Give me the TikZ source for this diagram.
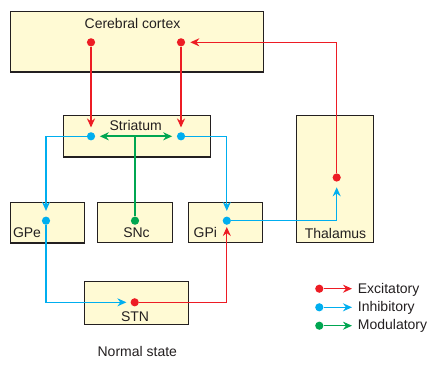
\documentclass[tikz,border=0pt]{standalone}
\usepackage{fontspec}
\setmainfont{Liberation Sans}
\usetikzlibrary{arrows.meta}
\definecolor{exc}{RGB}{237,28,36}
\definecolor{inh}{RGB}{0,174,239}
\definecolor{mod}{RGB}{0,166,81}
\definecolor{boxfill}{RGB}{255,250,212}
\definecolor{ink}{RGB}{35,31,32}
\begin{document}
\begin{tikzpicture}[x=1pt,y=-1pt,
  region/.style={draw=ink,line width=1.1pt,fill=boxfill},
  lbl/.style={text=ink,font=\fontsize{14}{15}\selectfont,inner sep=0pt},
  dot/.style={circle,fill=#1,inner sep=0pt,minimum size=8.2pt},
  path/.style={draw=#1,line width=1.2pt,-{Stealth[length=9pt,width=8pt]}},
  plain/.style={draw=#1,line width=1.2pt},
  heavy/.style={line width=1.9pt},
]
\useasboundingbox (0,0) rectangle (438,364);

% regions
\path[region] (10.3,11.3) rectangle (263.3,72);
\path[region] (63.3,115.7) rectangle (210.3,157);
\path[region] (296.3,115.7) rectangle (373.3,242.3);
\path[region] (10.3,202.3) rectangle (84.3,243);
\path[region] (97.3,202.3) rectangle (172.3,242.3);
\path[region] (188.3,202.3) rectangle (262.3,242.3);
\path[region] (84.3,281.3) rectangle (188.3,324.3);

% labels
\node[lbl,anchor=base] (lcx) at (132.5,28.3) {Cerebral cortex};
\node[lbl,anchor=base] (lst) at (135.7,130) {Striatum};
\node[lbl,anchor=base west] (lge) at (12.8,237.7) {GPe};
\node[lbl,anchor=base] (lsn) at (136.5,237.7) {SNc};
\node[lbl,anchor=base west] (lgi) at (193.5,237.7) {GPi};
\node[lbl,anchor=base] (lth) at (335.5,238) {Thalamus};
\node[lbl,anchor=base] (lstn) at (135,321.3) {STN};
\node[lbl,anchor=base] (lns) at (137.3,356) {Normal state};

% neurons
\node[dot=exc] (c1) at (91,42.3) {};
\node[dot=exc] (c2) at (181,42.3) {};
\node[dot=inh] (s1) at (91,136.3) {};
\node[dot=inh] (s2) at (181,136.3) {};
\node[dot=inh] (ge) at (46,220.7) {};
\node[dot=mod] (sn) at (135,220.7) {};
\node[dot=inh] (gi) at (226.8,220.7) {};
\node[dot=exc] (th) at (336.7,177.5) {};
\node[dot=exc] (stn) at (134.7,302.3) {};
\coordinate (mid) at (135,136.3);

% projections
\draw[path=exc,heavy,shorten >=4.5pt] (c1) -- (s1);
\draw[path=exc,heavy,shorten >=4.5pt] (c2) -- (s2);
\draw[path=exc,line width=1.5pt,shorten >=5pt] (th) |- (c2);
\draw[path=inh,shorten >=5.5pt] (s1) -| (ge);
\draw[path=inh,shorten >=5.5pt] (s2) -| (gi);
\draw[plain=mod,line width=1.7pt] (sn) -- (mid);
\draw[path=mod,heavy,shorten >=4.5pt] (mid) -- (s1);
\draw[path=mod,heavy,shorten >=4.5pt] (mid) -- (s2);
\draw[path=inh,shorten >=4pt] (ge) |- (stn);
\draw[path=exc,line width=1.1pt,shorten >=2pt] (stn) -| (gi);
\draw[path=inh,line width=1.1pt,shorten >=5.5pt] (gi) -| (th);

% legend
\node[dot=exc] (k1) at (319.3,288.7) {};
\node[dot=inh] (k2) at (319.3,307.3) {};
\node[dot=mod] (k3) at (319.3,325.7) {};
\coordinate (e1) at (352,288.7);
\coordinate (e2) at (352,307.3);
\coordinate (e3) at (352,325.7);
\draw[path=exc,line width=1.4pt] (k1) -- (e1);
\draw[path=inh,line width=1.4pt] (k2) -- (e2);
\draw[path=mod,line width=1.1pt] (k3) -- (e3);
\node[lbl,anchor=base west] (t1) at (357.7,293.3) {Excitatory};
\node[lbl,anchor=base west] (t2) at (357.7,311.3) {Inhibitory};
\node[lbl,anchor=base west] (t3) at (357.7,329) {Modulatory};
\end{tikzpicture}
\end{document}
